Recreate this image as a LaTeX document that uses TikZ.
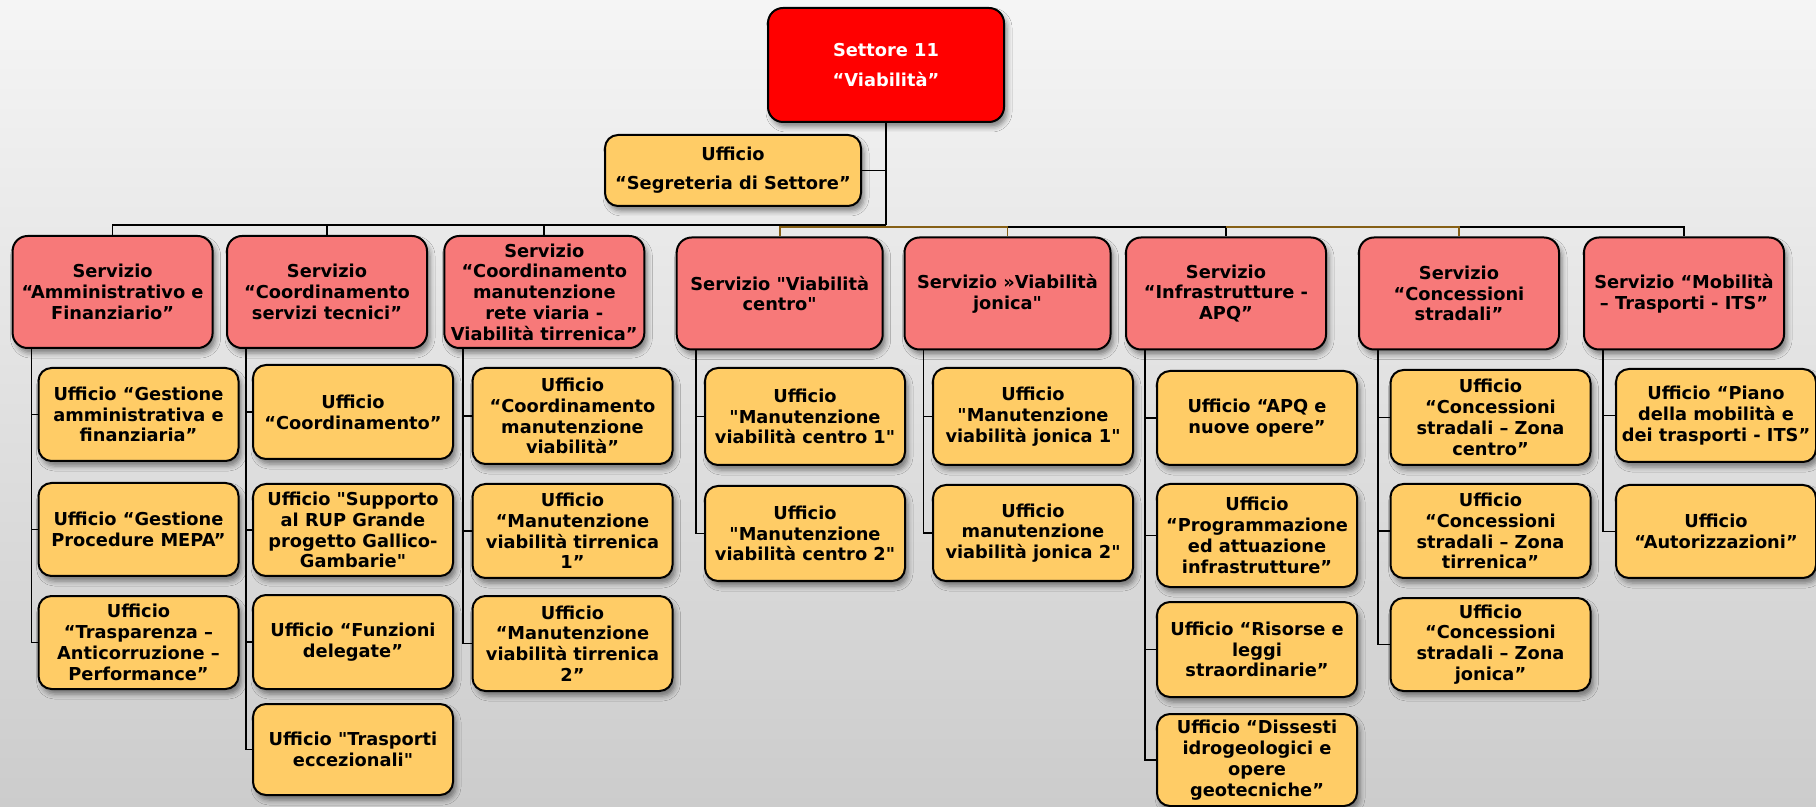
\documentclass[tikz,border=0pt]{standalone}
\usepackage{fontspec}
\setmainfont{DejaVu Sans}
\newfontfamily\boxfam{DejaVu Sans}
\usepackage{tikz}
\usetikzlibrary{positioning}
\usetikzlibrary{shapes.geometric,shadows,shadows.blur,calc}
\definecolor{settred}{RGB}{255,0,0}
\definecolor{servpink}{RGB}{247,121,121}
\definecolor{uffyellow}{RGB}{255,204,102}
\definecolor{connbrown}{RGB}{134,96,22}
\definecolor{bgtop}{RGB}{245,245,245}
\definecolor{bgbot}{RGB}{204,204,204}
\newcommand{\boxfont}{\boxfam\fontsize{8.9}{10.4}\selectfont\bfseries}
\newcommand{\boxfontwide}{\boxfam\fontsize{8.9}{14.6}\selectfont\bfseries}
\tikzstyle{conn} = [draw=black, line width=0.85pt]
\tikzstyle{brconn} = [draw=connbrown, line width=0.85pt]

\begin{document}
\begin{tikzpicture}[x=0.5pt,y=-0.5pt,
				box/.style = {
					draw=black, line width=1pt, rounded corners=7.5pt,
					align=center, inner sep=2pt, font=\boxfont,
					blur shadow={shadow xshift=1.5pt, shadow yshift=-2.5pt,
						shadow blur radius=2.5pt, shadow opacity=45},
				},
				sett/.style = {box, fill=settred, text=white, font=\boxfontwide,
					minimum width=118pt, minimum height=57pt},
				serv/.style = {box, fill=servpink, minimum width=100pt, minimum height=56pt},
				uff/.style = {box, fill=uffyellow, rounded corners=6.5pt, minimum width=100pt},
				]
				\useasboundingbox (0,0) rectangle (1816,807);
				\shade[top color=bgtop, bottom color=bgbot] (0,0) rectangle (1816,807);
				% settore e segreteria
				\node[sett] (sett) at (886,65) {Settore 11\\“Viabilità”};
				\node[uff, font=\boxfontwide, minimum width=128pt, minimum height=35.5pt] (segr) at (733,170.5) {Ufficio\\“Segreteria di Settore”};
				% servizi
				\node[serv] (amm) at (112.6,292) {Servizio\\“Amministrativo e\\Finanziario”};
				\node[serv] (tec) at (327,292) {Servizio\\“Coordinamento\\servizi tecnici”};
				\node[serv] (man) at (544.3,292) {Servizio\\“Coordinamento\\manutenzione\\rete viaria -\\Viabilità tirrenica”};
				\node[serv, minimum width=103pt] (cen) at (779.7,293.5) {Servizio "Viabilità\\centro"};
				\node[serv, minimum width=103pt] (jon) at (1007.5,293.5) {Servizio »Viabilità\\jonica"};
				\node[serv] (apq) at (1226,293.5) {Servizio\\“Infrastrutture -\\APQ”};
				\node[serv] (con) at (1459,293.5) {Servizio\\“Concessioni\\stradali”};
				\node[serv] (mob) at (1684,293.5) {Servizio “Mobilità\\– Trasporti - ITS”};
				% uffici
				\node[uff, minimum height=46.5pt] (amm1) at (138.5,414.5) {Ufficio “Gestione\\amministrativa e\\finanziaria”};
				\node[uff, minimum height=46.5pt] (amm2) at (138.5,529.5) {Ufficio “Gestione\\Procedure MEPA”};
				\node[uff, minimum height=46.5pt] (amm3) at (138.5,642.5) {Ufficio\\“Trasparenza –\\Anticorruzione –\\Performance”};
				\node[uff, minimum height=47pt] (tec1) at (353,412) {Ufficio\\“Coordinamento”};
				\node[uff, minimum height=46pt] (tec2) at (353,530) {Ufficio "Supporto\\al RUP Grande\\progetto Gallico-\\Gambarie"};
				\node[uff, minimum height=47pt] (tec3) at (353,642) {Ufficio “Funzioni\\delegate”};
				\node[uff, minimum height=45.5pt] (tec4) at (353,749.5) {Ufficio "Trasporti\\eccezionali"};
				\node[uff, minimum height=48pt] (man1) at (572.5,416) {Ufficio\\“Coordinamento\\manutenzione\\viabilità”};
				\node[uff, minimum height=47pt] (man2) at (572.5,531) {Ufficio\\“Manutenzione\\viabilità tirrenica\\1”};
				\node[uff, minimum height=47.5pt] (man3) at (572.5,643.5) {Ufficio\\“Manutenzione\\viabilità tirrenica\\2”};
				\node[uff, minimum height=48.5pt] (cen1) at (805,416.5) {Ufficio\\"Manutenzione\\viabilità centro 1"};
				\node[uff, minimum height=47.5pt] (cen2) at (805,533.5) {Ufficio\\"Manutenzione\\viabilità centro 2"};
				\node[uff, minimum height=48.5pt] (jon1) at (1033,416.5) {Ufficio\\"Manutenzione\\viabilità jonica 1"};
				\node[uff, minimum height=48pt] (jon2) at (1033,533) {Ufficio\\manutenzione\\viabilità jonica 2"};
				\node[uff, minimum height=47pt] (apq1) at (1257,418) {Ufficio “APQ e\\nuove opere”};
				\node[uff, minimum height=51.5pt] (apq2) at (1257,535.5) {Ufficio\\“Programmazione\\ed attuazione\\infrastrutture”};
				\node[uff, minimum height=47.5pt] (apq3) at (1257,649.5) {Ufficio “Risorse e\\leggi\\straordinarie”};
				\node[uff, minimum height=46pt] (apq4) at (1257,760) {Ufficio “Dissesti\\idrogeologici e\\opere\\geotecniche”};
				\node[uff, minimum height=47.5pt] (con1) at (1490.5,417.5) {Ufficio\\“Concessioni\\stradali – Zona\\centro”};
				\node[uff, minimum height=47pt] (con2) at (1490.5,531) {Ufficio\\“Concessioni\\stradali – Zona\\tirrenica”};
				\node[uff, minimum height=46.5pt] (con3) at (1490.5,644.5) {Ufficio\\“Concessioni\\stradali – Zona\\jonica”};
				\node[uff, minimum height=46.5pt] (mob1) at (1716,415.5) {Ufficio “Piano\\della mobilità e\\dei trasporti - ITS”};
				\node[uff, minimum height=46.5pt] (mob2) at (1716,531.5) {Ufficio\\“Autorizzazioni”};
				% collegamenti
				\coordinate (busl) at (886,225);
				\coordinate (busr) at (886,227);
				\draw[conn] (sett.south) -- (busl);
				\draw[conn] (segr.east) -- (segr.east -| sett.south);
				\foreach \s in {amm,tec,man}
				\draw[conn] (busl) -| (\s.north);
				\foreach \s in {cen,jon,apq,con,mob}
				\draw[conn] (busr) -| (\s.north);
				\draw[brconn] (cen.north) |- (busr) -| (jon.north);
				\draw[brconn] (apq.north |- busr) -| (con.north);
				\foreach \s/\l in {amm/{amm1,amm2,amm3},tec/{tec1,tec2,tec3,tec4},man/{man1,man2,man3},
					cen/{cen1,cen2},jon/{jon1,jon2},apq/{apq1,apq2,apq3,apq4},con/{con1,con2,con3},mob/{mob1,mob2}}
				\foreach \u in \l
				\draw[conn] ([xshift=10pt]\s.south west) |- (\u.west);
			\end{tikzpicture}
\end{document}
